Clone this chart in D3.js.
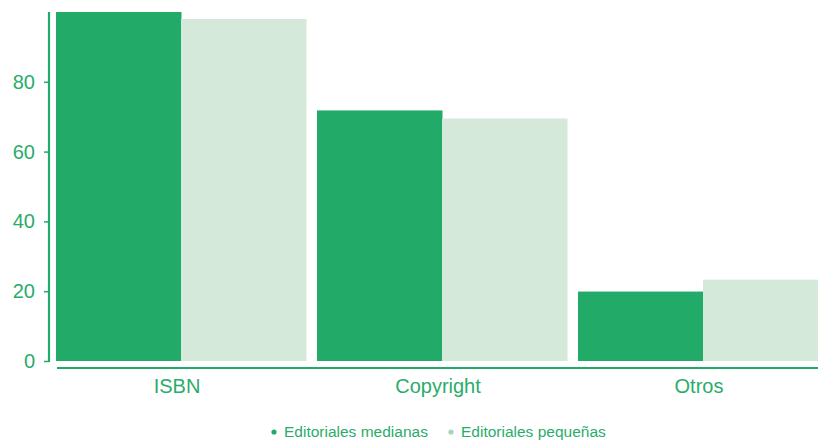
<!DOCTYPE html>
<html>
<head>
<meta charset="utf-8">
<script src="https://cdn.jsdelivr.net/npm/d3@7"></script>
<style>
  body { margin: 0; background: #fff; }
  svg { display: block; font-family: "Liberation Sans", Arial, sans-serif; }
</style>
</head>
<body>
<svg id="chart" width="818" height="440"></svg>
<script>
const categories = ['ISBN', 'Copyright', 'Otros'];
const seriesNames = ['Editoriales medianas', 'Editoriales pequeñas'];
const medianas = [100, 71.8, 19.9];
const pequenas = [98, 69.5, 23.3];
const yTicks = [0, 20, 40, 60, 80];

const green = '#22aa68';
const light = '#d5e9db';
const textGreen = '#2aac6a';

const svg = d3.select('#chart');
const y = d3.scaleLinear().domain([0, 100]).range([361, 12]);
const x = d3.scaleBand().domain(categories).range([45, 839])
  .paddingInner(0.042).paddingOuter(0.042);
const xs = d3.scaleBand().domain(seriesNames).range([0, x.bandwidth()]);

const rows = categories.map((c, i) => ({ cat: c, vals: [medianas[i], pequenas[i]] }));

const groups = svg.append('g').selectAll('g')
  .data(rows)
  .enter()
  .append('g')
  .attr('transform', d => `translate(${x(d.cat)},0)`);

groups.selectAll('rect')
  .data(d => d.vals.map((v, j) => ({ name: seriesNames[j], v })))
  .enter()
  .append('rect')
  .attr('x', d => xs(d.name))
  .attr('width', xs.bandwidth() + 0.5)
  .attr('y', d => y(d.v))
  .attr('height', d => y(0) - y(d.v))
  .attr('fill', (d, j) => j === 0 ? green : light);

// y axis
const yAxis = svg.append('g')
  .attr('transform', 'translate(49,0)')
  .call(d3.axisLeft(y).tickValues(yTicks).tickSize(5).tickSizeOuter(0).tickPadding(9));
yAxis.select('.domain').remove();
yAxis.selectAll('.tick line').attr('stroke', green).attr('stroke-width', 1.5);
yAxis.selectAll('.tick text')
  .attr('fill', textGreen)
  .style('font-size', '20px');
svg.append('line')
  .attr('x1', 49).attr('x2', 49)
  .attr('y1', 12).attr('y2', 362)
  .attr('stroke', green).attr('stroke-width', 2.2);

// x axis
svg.append('line')
  .attr('x1', 57).attr('x2', 818)
  .attr('y1', 368).attr('y2', 368)
  .attr('stroke', green).attr('stroke-width', 2.2);
const xAxis = svg.append('g')
  .attr('transform', 'translate(-4,368)')
  .call(d3.axisBottom(x).tickSize(0).tickPadding(11));
xAxis.select('.domain').remove();
xAxis.selectAll('.tick text')
  .attr('fill', textGreen)
  .style('font-size', '20px');

// legend
const legend = svg.append('g');
const legendX = [274, 451];
const legendCol = [green, '#a6d6b9'];
seriesNames.forEach((name, i) => {
  legend.append('circle')
    .attr('cx', legendX[i]).attr('cy', 432).attr('r', 2.6)
    .attr('fill', legendCol[i]);
  legend.append('text')
    .attr('x', legendX[i] + 10).attr('y', 437)
    .attr('fill', textGreen)
    .style('font-size', '15.5px')
    .text(name);
});
</script>
</body>
</html>
